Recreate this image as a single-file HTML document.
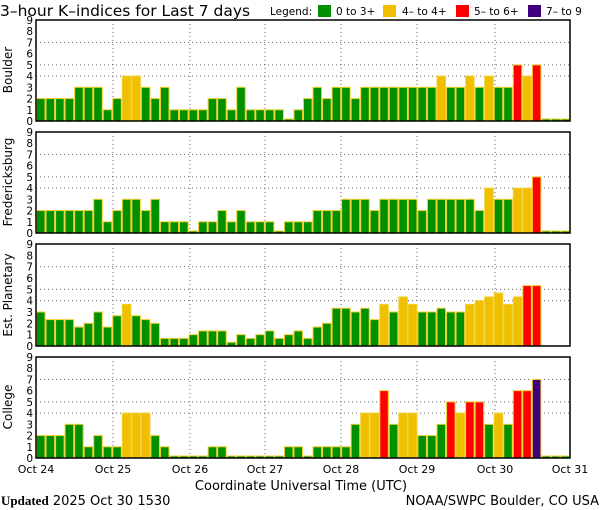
<!DOCTYPE html>
<html><head><meta charset="utf-8"><style>
body{margin:0;background:#fff;width:600px;height:510px;overflow:hidden}
svg{display:block}
text{font-family:"DejaVu Sans","Liberation Sans",sans-serif;fill:#000}
</style></head><body>
<svg id="s" width="600" height="510" viewBox="0 0 600 510" xmlns="http://www.w3.org/2000/svg">
<text x="0" y="16" font-size="15.5">3–hour K–indices for Last 7 days</text>
<text x="270" y="15" font-size="10.5">Legend:</text>
<rect x="318" y="5" width="13" height="12" fill="#009000"/>
<text x="336" y="15" font-size="10.5">0 to 3+</text>
<rect x="383" y="5" width="13" height="12" fill="#f0c000"/>
<text x="402" y="15" font-size="10.5">4– to 4+</text>
<rect x="456" y="5" width="13" height="12" fill="#ff0000"/>
<text x="474" y="15" font-size="10.5">5– to 6+</text>
<rect x="528" y="5" width="13" height="12" fill="#400080"/>
<text x="546" y="15" font-size="10.5">7– to 9</text>
<g id="panels"></g>
<text x="12" y="70" font-size="12" transform="rotate(-90 12 70)" text-anchor="middle">Boulder</text>
<text x="12" y="182" font-size="12" transform="rotate(-90 12 182)" text-anchor="middle">Fredericksburg</text>
<text x="12" y="295" font-size="12" transform="rotate(-90 12 295)" text-anchor="middle">Est. Planetary</text>
<text x="12" y="407" font-size="12" transform="rotate(-90 12 407)" text-anchor="middle">College</text>
<g font-size="11" text-anchor="middle">
<text x="36" y="473">Oct 24</text><text x="113" y="473">Oct 25</text><text x="190" y="473">Oct 26</text><text x="265" y="473">Oct 27</text><text x="341" y="473">Oct 28</text><text x="417" y="473">Oct 29</text><text x="495" y="473">Oct 30</text><text x="570" y="473">Oct 31</text>
</g>
<text x="301" y="490" font-size="13" text-anchor="middle">Coordinate Universal Time (UTC)</text>
<text x="1" y="505" font-size="13"><tspan font-weight="bold" font-family="Liberation Serif,serif">Updated</tspan> 2025 Oct 30 1530</text>
<text x="599" y="505" font-size="13" text-anchor="end">NOAA/SWPC Boulder, CO USA</text>
</svg>
<script>
var P=[[20,121,[2,2,2,2,3,3,3,1,2,4,4,3,2,3,1,1,1,1,2,2,1,3,1,1,1,1,0,1,2,3,2,3,3,2,3,3,3,3,3,3,3,3,4,3,3,4,3,4,3,3,5,4,5,0,0,0]],
[132,233,[2,2,2,2,2,2,3,1,2,3,3,2,3,1,1,1,0,1,1,2,1,2,1,1,1,0,1,1,1,2,2,2,3,3,3,2,3,3,3,3,2,3,3,3,3,3,2,4,3,3,4,4,5,0,0,0]],
[244,346,[3,2.33,2.33,2.33,1.67,2,3,1.67,2.67,3.67,2.67,2.33,2,.67,.67,.67,1,1.33,1.33,1.33,.33,1,.67,1,1.33,.67,1,1.33,.67,1.67,2,3.33,3.33,3,3.33,2.33,3.67,3,4.33,3.67,3,3,3.33,3,3,3.67,4,4.33,4.67,3.67,4.33,5.33,5.33,null,null,null]],
[357,458,[2,2,2,3,3,1,2,1,1,4,4,4,2,1,0,0,0,0,1,1,0,0,0,0,0,0,1,1,0,1,1,1,1,3,4,4,6,3,4,4,2,2,3,5,4,5,5,3,4,3,6,6,7,0,0,0]]];
var h='',L=36,R=570,W=(R-L)/56,days=[113,190,265,341,417,495];
P.forEach(function(p){var t=p[0],b=p[1],u=(b-t)/9;
 [4,5,7].forEach(function(k){var y=b-k*u;h+='<line x1="'+L+'" x2="'+R+'" y1="'+y+'" y2="'+y+'" stroke="#666" stroke-dasharray="1,3"/>';});
 days.forEach(function(x){h+='<line x1="'+x+'" x2="'+x+'" y1="'+t+'" y2="'+b+'" stroke="#666" stroke-dasharray="1,3"/>';});
 p[2].forEach(function(v,i){if(v===null)return;var x=L+i*W,hh=Math.max(v*u,2);
  var c=v>=7?'#400080':v>=5?'#ff0000':v>=3.67?'#f0c000':'#009000';
  h+='<rect x="'+(x+0.5)+'" y="'+(b-hh)+'" width="'+(W-1)+'" height="'+hh+'" fill="'+c+'" stroke="#f0d030" stroke-width="1"/>';});
 h+='<rect x="'+L+'" y="'+t+'" width="'+(R-L)+'" height="'+(b-t)+'" fill="none" stroke="#000" stroke-width="1.5"/>';
 for(var k=0;k<=9;k++)h+='<text x="33" y="'+(b-k*u+4)+'" font-size="10.5" text-anchor="end">'+k+'</text>';
});
document.getElementById('panels').innerHTML=h;
</script>
</body></html>
